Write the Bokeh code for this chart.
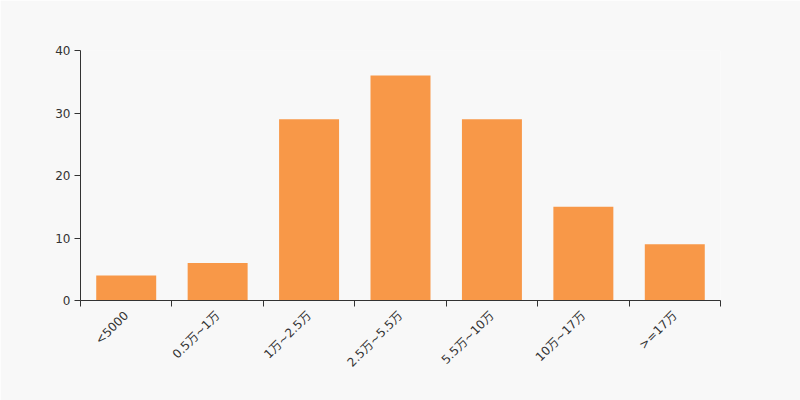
from bokeh.plotting import figure
from bokeh.models import FixedTicker, Range1d, ColumnDataSource
from bokeh.embed import file_html
from bokeh.resources import INLINE
import math

categories = ["<5000", "0.5万~1万", "1万~2.5万", "2.5万~5.5万", "5.5万~10万", "10万~17万", ">=17万"]
counts = [4, 6, 29, 36, 29, 15, 9]
y_ticks = [0, 10, 20, 30, 40]

centers = [i + 0.5 for i in range(len(categories))]
src = ColumnDataSource(dict(x=centers, top=counts))

BG = "#f8f8f8"
p = figure(width=800, height=400, output_backend="svg", toolbar_location=None,
           x_range=Range1d(0, len(categories)), y_range=Range1d(0, 40),
           min_border_left=80, min_border_right=80, min_border_top=50, min_border_bottom=100)
p.background_fill_color = BG
p.border_fill_color = BG
p.outline_line_color = None
p.grid.visible = False

p.vbar(x="x", top="top", width=0.656, source=src, fill_color="#f89848", line_color=None)

FONT = "DejaVu Sans, Noto Sans CJK SC"
xa = p.xaxis[0]
xa.ticker = FixedTicker(ticks=centers, minor_ticks=list(range(len(categories) + 1)))
xa.major_label_overrides = {c: lab for c, lab in zip(centers, categories)}
xa.major_tick_out = 0
xa.major_tick_in = 0
xa.minor_tick_out = 6
xa.minor_tick_in = 0
xa.minor_tick_line_color = "#333333"
xa.axis_line_color = "#333333"
xa.major_label_orientation = math.pi / 4
xa.major_label_text_font = FONT
xa.major_label_text_font_size = "12px"
xa.major_label_text_color = "#333333"
xa.major_label_standoff = 7

ya = p.yaxis[0]
ya.ticker = FixedTicker(ticks=y_ticks, minor_ticks=[])
ya.major_tick_out = 6
ya.major_tick_in = 0
ya.major_tick_line_color = "#333333"
ya.axis_line_color = "#333333"
ya.major_label_text_font = FONT
ya.major_label_text_font_size = "12px"
ya.major_label_text_color = "#333333"
ya.major_label_standoff = 4

html = file_html(p, INLINE)
html = html.replace("<body>", '<body style="background:#f8f8f8">', 1)
open("out.html", "w").write(html)
